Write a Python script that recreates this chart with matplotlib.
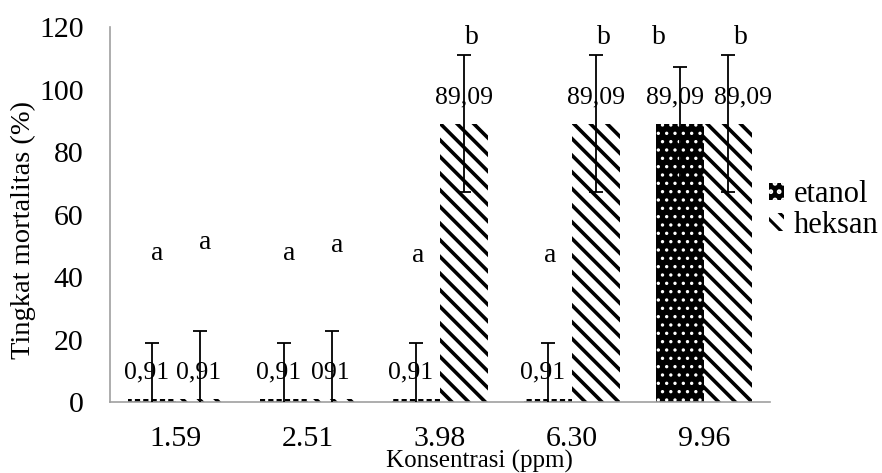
import numpy as np
import matplotlib
matplotlib.use('Agg')
import matplotlib.pyplot as plt

plt.rcParams['font.family'] = ['Liberation Serif', 'DejaVu Serif']

konsentrasi = ['1.59', '2.51', '3.98', '6.30', '9.96']
etanol = [0.91, 0.91, 0.91, 0.91, 89.09]
heksan = [0.91, 0.91, 89.09, 89.09, 89.09]
etanol_sd = [18.0, 18.0, 18.0, 18.0, 18.0]
heksan_sd = [21.8, 21.8, 21.8, 21.8, 21.8]
etanol_txt = ['0,91', '0,91', '0,91', '0,91', '89,09']
heksan_txt = ['0,91', '091', '89,09', '89,09', '89,09']
etanol_huruf = ['a', 'a', 'a', 'a', 'b']
heksan_huruf = ['a', 'a', 'b', 'b', 'b']
etanol_huruf_y = [47.5, 47.5, 47, 47, 116.5]
heksan_huruf_y = [51, 50, 116.5, 116.5, 116.5]
# geser label sedikit biar tidak tabrakan
etanol_txt_dx = [-0.04, -0.04, -0.04, -0.04, -0.04]
heksan_txt_dx = [-0.01, -0.01, 0, 0, 0.11]
etanol_huruf_dx = [0.04, 0.04, 0.02, 0.02, -0.16]
heksan_huruf_dx = [0.04, 0.04, 0.06, 0.06, 0.1]

x = np.arange(len(konsentrasi))
w = 0.364

fig = plt.figure(figsize=(8.82, 4.73), dpi=100)
ax = fig.add_axes([0.1247, 0.1501, 0.7483, 0.7928])

with plt.rc_context({'hatch.linewidth': 1.2}):
    b1 = ax.bar(x - w/2, etanol, w, color='black', edgecolor='white', hatch='..', lw=0, label='etanol')
with plt.rc_context({'hatch.linewidth': 2.6}):
    b2 = ax.bar(x + w/2, heksan, w, color='white', edgecolor='black', hatch='\\\\', lw=0, label='heksan')

ax.errorbar(x - w/2, etanol, yerr=etanol_sd, fmt='none', ecolor='black', elinewidth=1.3, capsize=5, capthick=1.3, zorder=5)
ax.errorbar(x + w/2, heksan, yerr=heksan_sd, fmt='none', ecolor='black', elinewidth=1.3, capsize=5, capthick=1.3, zorder=5)

for i in range(len(x)):
    ax.text(x[i] - w/2 + etanol_txt_dx[i], etanol[i] + 8.5, etanol_txt[i], ha='center', va='center', fontsize=18.5, zorder=6)
    ax.text(x[i] + w/2 + heksan_txt_dx[i], heksan[i] + 8.5, heksan_txt[i], ha='center', va='center', fontsize=18.5, zorder=6)
    ax.text(x[i] - w/2 + etanol_huruf_dx[i], etanol_huruf_y[i], etanol_huruf[i], ha='center', va='center', fontsize=20)
    ax.text(x[i] + w/2 + heksan_huruf_dx[i], heksan_huruf_y[i], heksan_huruf[i], ha='center', va='center', fontsize=20)

ax.set_xlim(-0.5, 4.5)
ax.set_ylim(0, 120)
ax.set_yticks(range(0, 121, 20))
ax.set_xticks(x)
ax.set_xticklabels(konsentrasi)
ax.tick_params(axis='both', length=0, labelsize=21.5)
ax.tick_params(axis='y', pad=19)
ax.tick_params(axis='x', pad=17)
for s in ['top', 'right']:
    ax.spines[s].set_visible(False)
for s in ['left', 'bottom']:
    ax.spines[s].set_color('#a0a0a0')
    ax.spines[s].set_linewidth(1.2)

ax.set_xlabel('Konsentrasi (ppm)', fontsize=18)
ax.xaxis.set_label_coords(0.56, -0.127)
ax.set_ylabel('Tingkat mortalitas (%)', fontsize=20.5)
ax.yaxis.set_label_coords(-0.112, 0.459)

with plt.rc_context({'hatch.linewidth': 2.2}):
    ax.legend(loc='center left', bbox_to_anchor=(0.872, 0.556), bbox_transform=fig.transFigure,
              frameon=False, fontsize=22, borderpad=0, borderaxespad=0, handlelength=0.5,
              handleheight=0.5, handletextpad=0.3, labelspacing=0.05)

fig.savefig('out.png', dpi=100)
